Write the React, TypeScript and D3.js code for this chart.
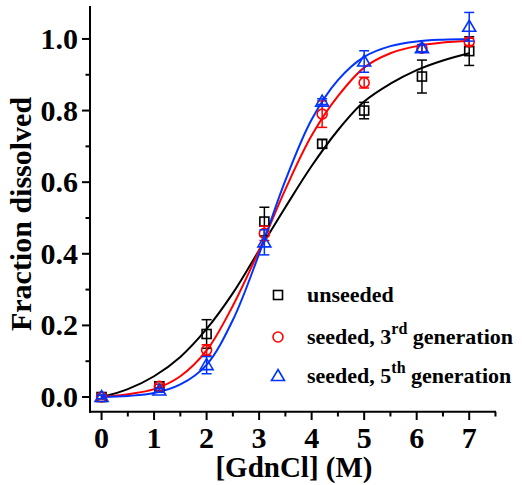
import React from "react";
import * as d3 from "d3";

const xValues = [0, 1.1, 2, 3.1, 4.2, 5, 6.1, 7];
const unseeded = [0, 0.03, 0.176, 0.49, 0.707, 0.8, 0.895, 0.966];
const unseededErr = [0.005, 0.005, 0.04, 0.04, 0.012, 0.023, 0.046, 0.04];
const third = [0, 0.03, 0.131, 0.457, 0.79, 0.878, 0.974, 0.992];
const thirdErr = [0.005, 0.006, 0.015, 0.02, 0.037, 0.015, 0.01, 0.01];
const fifth = [0, 0.018, 0.089, 0.432, 0.825, 0.937, 0.974, 1.034];
const fifthErr = [0.005, 0.005, 0.024, 0.035, 0.008, 0.03, 0.01, 0.04];

const fitX = [0, 0.5, 1, 1.5, 2, 2.5, 3, 3.5, 4, 4.5, 5, 5.5, 6, 6.5, 7];
const fitUnseeded = [0, 0.022, 0.058, 0.112, 0.19, 0.29, 0.41, 0.53, 0.645, 0.745, 0.825, 0.875, 0.913, 0.94, 0.96];
const fitThird = [0, 0.008, 0.022, 0.058, 0.13, 0.255, 0.41, 0.58, 0.73, 0.84, 0.92, 0.96, 0.98, 0.99, 0.995];
const fitFifth = [0, 0.003, 0.011, 0.035, 0.09, 0.215, 0.4, 0.605, 0.775, 0.885, 0.95, 0.98, 0.993, 0.998, 1.0];

const xTicks = [0, 1, 2, 3, 4, 5, 6, 7];
const xMinor = [0.5, 1.5, 2.5, 3.5, 4.5, 5.5, 6.5, 7.5];
const yTicks = [0, 0.2, 0.4, 0.6, 0.8, 1.0];
const yMinor = [0.1, 0.3, 0.5, 0.7, 0.9];

const FONT = '"Liberation Serif", "Times New Roman", "DejaVu Serif", serif';

export default function App() {
  const x = d3.scaleLinear().domain([-0.22, 7.51]).range([90, 496]);
  const y = d3.scaleLinear().domain([-0.041, 1.092]).range([411.7, 6]);

  const line = d3
    .line<[number, number]>()
    .x((d) => x(d[0]))
    .y((d) => y(d[1]))
    .curve(d3.curveCatmullRom.alpha(0.5));

  const series = [
    { vals: unseeded, err: unseededErr, fit: fitUnseeded, color: "#000000", shape: "square" },
    { vals: third, err: thirdErr, fit: fitThird, color: "#ff0000", shape: "circle" },
    { vals: fifth, err: fifthErr, fit: fitFifth, color: "#0033ff", shape: "triangle" },
  ];

  const marker = (shape: string, cx: number, cy: number, color: string, key: string) => {
    if (shape === "square")
      return <rect key={key} x={cx - 4.5} y={cy - 4.5} width={9} height={9} fill="none" stroke={color} strokeWidth={1.6} />;
    if (shape === "circle")
      return <circle key={key} cx={cx} cy={cy} r={5} fill="none" stroke={color} strokeWidth={1.6} />;
    return (
      <path
        key={key}
        d={`M${cx},${cy - 6.5}L${cx + 6.5},${cy + 4.5}L${cx - 6.5},${cy + 4.5}Z`}
        fill="none"
        stroke={color}
        strokeWidth={1.6}
      />
    );
  };

  const textStyle = { fontFamily: FONT, fontWeight: 700 } as React.CSSProperties;

  return (
    <svg width={522} height={485} style={{ position: "absolute", left: 0, top: 0, background: "#fff" }}>
      <rect width={522} height={485} fill="#fff" />
      {series.map((s, i) => (
        <path
          key={"fit" + i}
          d={line(fitX.map((v, j) => [v, s.fit[j]]) as [number, number][]) || ""}
          fill="none"
          stroke={s.color}
          strokeWidth={2}
        />
      ))}
      {series.map((s, i) => (
        <g key={"pts" + i}>
          {xValues.map((xv, j) => {
            const cx = x(xv);
            const y0 = y(s.vals[j] - s.err[j]);
            const y1 = y(s.vals[j] + s.err[j]);
            return (
              <g key={j} stroke={s.color} strokeWidth={1.5}>
                <line x1={cx} x2={cx} y1={y0} y2={y1} />
                <line x1={cx - 5} x2={cx + 5} y1={y0} y2={y0} />
                <line x1={cx - 5} x2={cx + 5} y1={y1} y2={y1} />
              </g>
            );
          })}
          {xValues.map((xv, j) => marker(s.shape, x(xv), y(s.vals[j]), s.color, "m" + j))}
        </g>
      ))}
      <line x1={90} x2={90} y1={6} y2={412.7} stroke="#000" strokeWidth={2} />
      <line x1={89} x2={496} y1={411.7} y2={411.7} stroke="#000" strokeWidth={2} />
      {xTicks.map((t) => (
        <g key={"xt" + t}>
          <line x1={x(t)} x2={x(t)} y1={411.7} y2={420} stroke="#000" strokeWidth={2} />
          <text x={x(t)} y={448} textAnchor="middle" fontSize={30} style={textStyle}>
            {t}
          </text>
        </g>
      ))}
      {xMinor.map((t) => (
        <line key={"xm" + t} x1={x(t)} x2={x(t)} y1={411.7} y2={416.5} stroke="#000" strokeWidth={2} />
      ))}
      {yTicks.map((t) => (
        <g key={"yt" + t}>
          <line x1={82} x2={90} y1={y(t)} y2={y(t)} stroke="#000" strokeWidth={2} />
          <text x={78} y={y(t) + 10} textAnchor="end" fontSize={30} style={textStyle}>
            {d3.format(".1f")(t)}
          </text>
        </g>
      ))}
      {yMinor.map((t) => (
        <line key={"ym" + t} x1={85.5} x2={90} y1={y(t)} y2={y(t)} stroke="#000" strokeWidth={2} />
      ))}
      <text x={294} y={477} textAnchor="middle" fontSize={29} style={textStyle}>
        [GdnCl] (M)
      </text>
      <text transform="translate(31,214) rotate(-90)" textAnchor="middle" fontSize={30} style={textStyle}>
        Fraction dissolved
      </text>
      {marker("square", 278, 295, "#000000", "lg0")}
      {marker("circle", 278, 337, "#ff0000", "lg1")}
      {marker("triangle", 278, 376, "#0033ff", "lg2")}
      <text x={307} y={302} fontSize={22} style={textStyle}>unseeded</text>
      <text x={307} y={344} fontSize={22} style={textStyle}>
        seeded, 3<tspan dy={-10} fontSize={16}>rd</tspan>
        <tspan dy={10}> generation</tspan>
      </text>
      <text x={307} y={383} fontSize={22} style={textStyle}>
        seeded, 5<tspan dy={-10} fontSize={16}>th</tspan>
        <tspan dy={10}> generation</tspan>
      </text>
    </svg>
  );
}
